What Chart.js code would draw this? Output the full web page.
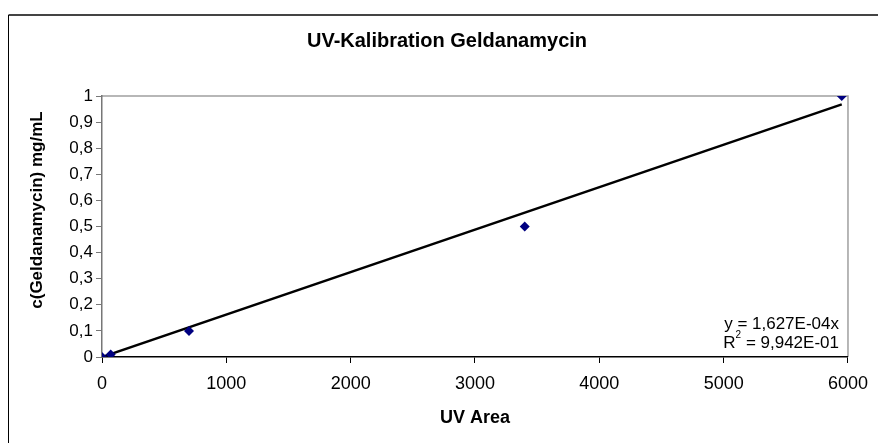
<!DOCTYPE html>
<html>
<head>
<meta charset="utf-8">
<script src="https://cdn.jsdelivr.net/npm/chart.js@4/dist/chart.umd.min.js"></script>
<style>
  html, body { margin: 0; padding: 0; background: #fff; }
  #wrap { width: 878px; height: 443px; position: relative; }
</style>
</head>
<body>
<div id="wrap"><canvas id="chart" width="878" height="443"></canvas></div>
<script>
// Calibration points: UV peak area vs. concentration
const uvArea = [0, 70, 700, 3400, 5950];
const conc = [0, 0.01, 0.1, 0.5, 1.0];

// Linear fit through origin, as printed on the chart
const slope = 1.627e-4;
const eqText = 'y = 1,627E-04x';
const r2Text = ' = 9,942E-01';

const xTicks = [0, 1000, 2000, 3000, 4000, 5000, 6000];
const yTicks = [0, 0.1, 0.2, 0.3, 0.4, 0.5, 0.6, 0.7, 0.8, 0.9, 1];

const FONT = '"Liberation Sans", Arial, sans-serif';

const points = uvArea.map((x, i) => ({ x, y: conc[i] }));
const xMax = Math.max(...uvArea);
const fitLine = [{ x: 0, y: 0 }, { x: xMax, y: slope * xMax }];

const deco = {
  id: 'deco',
  beforeDraw(chart) {
    const c = chart.ctx;
    const a = chart.chartArea;
    c.save();
    // outer frame (open to the right and bottom)
    c.strokeStyle = '#444';
    c.lineWidth = 2;
    c.beginPath();
    c.moveTo(878, 15);
    c.lineTo(8.5, 15);
    c.stroke();
    c.strokeStyle = '#000';
    c.lineWidth = 1;
    c.beginPath();
    c.moveTo(8.5, 15);
    c.lineTo(8.5, 443);
    c.stroke();
    // plot area top/right edges
    c.strokeStyle = '#a0a0a0';
    c.lineWidth = 1.5;
    c.beginPath();
    c.moveTo(a.left, a.top);
    c.lineTo(a.right, a.top);
    c.lineTo(a.right, a.bottom);
    c.stroke();
    c.restore();
  },
  afterDraw(chart) {
    const c = chart.ctx;
    const a = chart.chartArea;
    c.save();
    c.fillStyle = '#000';
    c.textBaseline = 'middle';
    c.textAlign = 'center';
    c.font = 'bold 20px ' + FONT;
    c.fillText('UV-Kalibration Geldanamycin', 447, 41);

    // y axis title
    c.save();
    c.translate(37, 210);
    c.rotate(-Math.PI / 2);
    c.font = 'bold 17px ' + FONT;
    c.fillText('c(Geldanamycin) mg/mL', 0, 0);
    c.restore();

    // trendline label, right aligned inside the plot
    const rx = a.right - 9;
    c.font = '17px ' + FONT;
    c.textAlign = 'right';
    c.fillText(eqText, rx, 324);
    c.fillText(r2Text, rx, 343);
    const wRest = c.measureText(r2Text).width;
    c.font = '10px ' + FONT;
    const w2 = c.measureText('2').width;
    c.fillText('2', rx - wRest, 335);
    c.font = '17px ' + FONT;
    c.fillText('R', rx - wRest - w2, 343);
    c.restore();
  }
};

new Chart(document.getElementById('chart'), {
  type: 'scatter',
  data: {
    datasets: [
      {
        label: 'Kalibration',
        data: points,
        pointStyle: 'rectRot',
        radius: 5,
        backgroundColor: '#000080',
        borderColor: '#000080',
        borderWidth: 0,
        order: 1
      },
      {
        label: 'Trend',
        data: fitLine,
        showLine: true,
        borderColor: '#000',
        borderWidth: 2.5,
        pointRadius: 0,
        order: 2
      }
    ]
  },
  options: {
    responsive: false,
    animation: false,
    layout: { padding: { left: 10, right: 26, top: 96, bottom: 0 } },
    plugins: { legend: { display: false }, tooltip: { enabled: false }, title: { display: false } },
    scales: {
      x: {
        type: 'linear',
        min: 0, max: 6000,
        afterBuildTicks: s => { s.ticks = xTicks.map(v => ({ value: v })); },
        afterFit: s => { s.height = 86; },
        border: { color: '#000', width: 1.5 },
        grid: { drawOnChartArea: false, tickLength: 6, color: '#000' },
        ticks: {
          color: '#000', font: { family: FONT, size: 18 }, padding: 10,
          maxRotation: 0, callback: v => String(v)
        },
        title: {
          display: true, text: 'UV Area', color: '#000',
          font: { family: FONT, size: 18, weight: 'bold' }, padding: { top: 4, bottom: 14 }
        }
      },
      y: {
        type: 'linear',
        min: 0, max: 1,
        afterBuildTicks: s => { s.ticks = yTicks.map(v => ({ value: v })); },
        afterFit: s => { s.width = 92; },
        border: { color: '#777', width: 1.5 },
        grid: { drawOnChartArea: false, tickLength: 6, color: '#777' },
        ticks: {
          color: '#000', font: { family: FONT, size: 17 }, padding: 3,
          callback: v => (v === 0 || v === 1) ? String(v) : v.toFixed(1).replace('.', ',')
        }
      }
    }
  },
  plugins: [deco]
});
</script>
</body>
</html>
